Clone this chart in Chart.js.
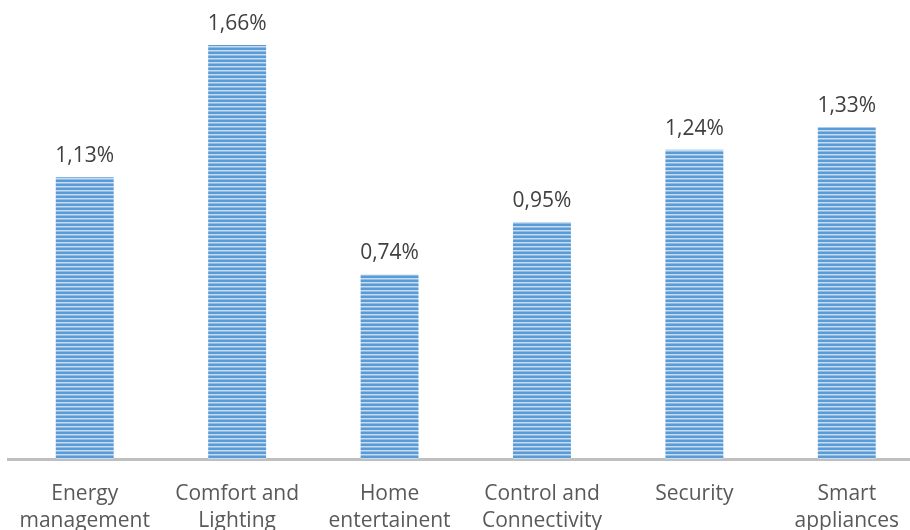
<!DOCTYPE html>
<html>
<head>
<meta charset="utf-8">
<script src="https://cdn.jsdelivr.net/npm/chart.js@4.4.1/dist/chart.umd.min.js"></script>
<style>
  html, body { margin: 0; padding: 0; background: #fff; overflow: hidden; }
  #wrap { position: relative; margin-left: -2px; width: 925px; height: 530px; }
</style>
</head>
<body>
<div id="wrap"><canvas id="chart"></canvas></div>
<script>
const categories = [
    ["Energy", "management"],
    ["Comfort and", "Lighting"],
    ["Home", "entertainent"],
    ["Control and", "Connectivity"],
    ["Security"],
    ["Smart", "appliances"]
];
const values = [1.13, 1.66, 0.74, 0.95, 1.24, 1.33];
const valueLabels = ["1,13%", "1,66%", "0,74%", "0,95%", "1,24%", "1,33%"];

// striped fill like the office "horizontal lines" pattern
const makeStripes = () => {
    let c = document.createElement('canvas');
    c.width = 4; c.height = 4;
    let g = c.getContext('2d');
    g.fillStyle = '#5b9bd5'; g.fillRect(0, 0, 4, 2);
    g.fillStyle = '#c6dcf1'; g.fillRect(0, 2, 4, 1);
    g.fillStyle = '#8fbbe4'; g.fillRect(0, 3, 4, 1);
    return g.createPattern(c, 'repeat');
};

const valueLabelPlugin = {
    id: 'valueLabels',
    afterDatasetsDraw(chart) {
        const ctx = chart.ctx;
        const meta = chart.getDatasetMeta(0);
        ctx.save();
        ctx.font = '21px "Open Sans", sans-serif';
        ctx.fillStyle = '#404040';
        ctx.textAlign = 'center';
        ctx.textBaseline = 'alphabetic';
        meta.data.forEach((bar, i) => {
            ctx.fillText(valueLabels[i], bar.x, bar.y - 15);
        });
        ctx.restore();
    }
};

let chartNode = document.getElementById('chart').getContext('2d');

let barChart = new Chart(chartNode, {
    type: 'bar',
    data: {
        labels: categories,
        datasets: [{
            data: values,
            backgroundColor: makeStripes(),
            borderWidth: 0,
            barPercentage: 0.38,
            categoryPercentage: 1
        }]
    },
    options: {
        responsive: true,
        maintainAspectRatio: false,
        animation: false,
        layout: { padding: { left: 6, right: 0, top: 10, bottom: 0 } },
        plugins: {
            legend: { display: false },
            tooltip: { enabled: false }
        },
        scales: {
            x: {
                grid: { display: false, drawTicks: false },
                border: { display: true, color: '#bfbfbf', width: 3 },
                ticks: {
                    color: '#595959',
                    font: { family: '"Open Sans", sans-serif', size: 21, lineHeight: 1.29 },
                    padding: 21,
                    maxRotation: 0,
                    autoSkip: false
                },
                afterFit: (scale) => { scale.height = 71; }
            },
            y: {
                display: false,
                min: 0,
                max: 1.8
            }
        }
    },
    plugins: [valueLabelPlugin]
});
</script>
</body>
</html>
